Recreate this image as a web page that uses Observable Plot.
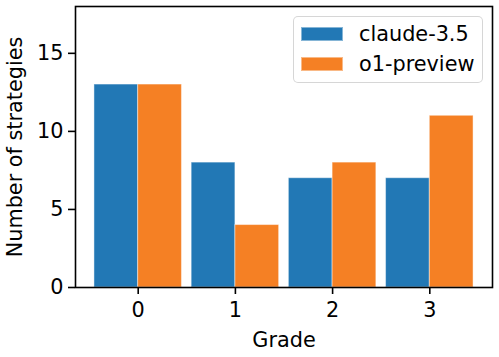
<!DOCTYPE html>
<html><head><meta charset="utf-8">
<script src="https://cdn.jsdelivr.net/npm/d3@7"></script>
<script src="https://cdn.jsdelivr.net/npm/@observablehq/plot@0.6"></script>
<style>
body{margin:0;background:#fff;}
#wrap{position:relative;width:499px;height:357px;font-family:"DejaVu Sans",sans-serif;}
#legend{position:absolute;left:293px;top:16px;width:190px;height:67px;border:1.5px solid rgba(204,204,204,0.8);border-radius:5px;box-sizing:border-box;background:rgba(255,255,255,0.8);font-size:20.8px;color:#000;}
.row{position:absolute;left:7px;height:20px;display:flex;align-items:center;}
.sw{width:42px;height:14px;margin-right:16px;box-sizing:border-box;}
</style>
</head><body>
<div id="wrap"></div>
<script>
const grades = [0, 1, 2, 3];
const series = ["claude-3.5", "o1-preview"];
const claude = [13, 8, 7, 7];
const o1 = [13, 4, 8, 11];
const colors = ["#2278b5", "#f58024"];
const yTicks = [0, 5, 10, 15];
const barWidth = 0.45;

const values = [claude, o1];
const rows = [];
series.forEach((s, si) => {
  grades.forEach((g, gi) => {
    rows.push({grade: g, series: s, value: values[si][gi],
      x1: g + (si - 1) * barWidth, x2: g + si * barWidth});
  });
});

const chart = Plot.plot({
  width: 499, height: 357,
  marginLeft: 75, marginRight: 7, marginTop: 6, marginBottom: 70,
  style: {fontFamily: "DejaVu Sans", fontSize: "20.8px", color: "black", background: "white"},
  x: {domain: [-0.645, 3.645]},
  y: {domain: [0, 18]},
  color: {domain: series, range: colors},
  marks: [
    Plot.rectY(rows, {x1: "x1", x2: "x2", y: "value", fill: "series", stroke: "white", strokeOpacity: 0.45, strokeWidth: 1}),
    Plot.axisX({ticks: grades, tickFormat: d => String(d), tickSize: 7, tickPadding: 8, strokeWidth: 1.6,
      label: "Grade", labelAnchor: "center", labelArrow: "none", labelOffset: 59, fontSize: 20.8}),
    Plot.axisY({ticks: yTicks, tickFormat: d => String(d), tickSize: 7, tickPadding: 5, strokeWidth: 1.6,
      label: "Number of strategies", labelAnchor: "center", labelArrow: "none", labelOffset: 68, fontSize: 20.8}),
    Plot.frame({stroke: "black", strokeWidth: 1.6})
  ]
});
const wrap = document.getElementById("wrap");
wrap.appendChild(chart);

const legend = document.createElement("div");
legend.id = "legend";
series.forEach((s, i) => {
  const row = document.createElement("div");
  row.className = "row";
  row.style.top = (7 + i * 30) + "px";
  const sw = document.createElement("div");
  sw.className = "sw";
  sw.style.background = colors[i];
  sw.style.border = "1px solid rgba(255,255,255,0.45)";
  const t = document.createElement("span");
  t.textContent = s;
  row.appendChild(sw); row.appendChild(t);
  legend.appendChild(row);
});
wrap.appendChild(legend);
</script>
</body></html>
